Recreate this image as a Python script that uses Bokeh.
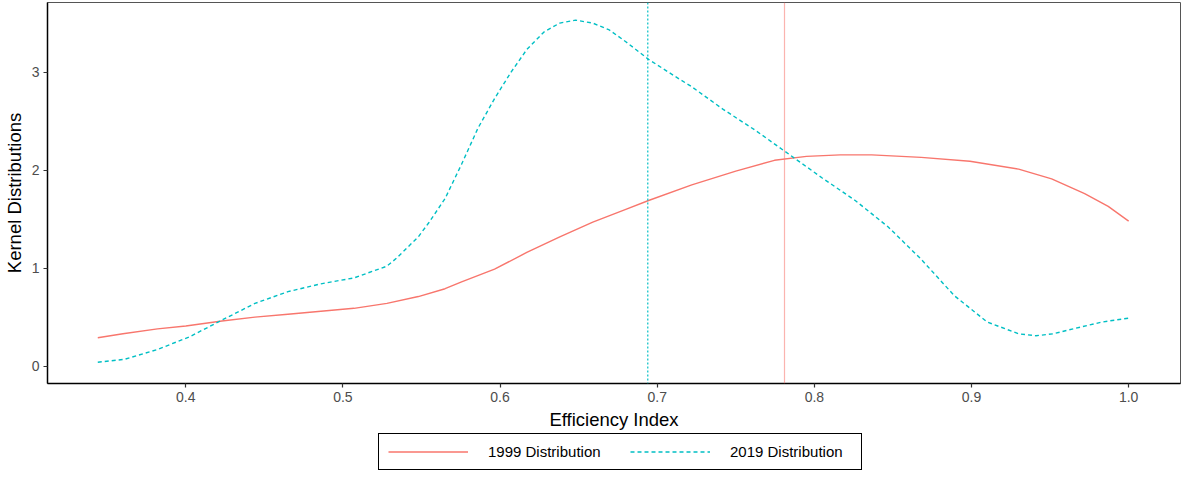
from bokeh.plotting import figure
from bokeh.layouts import column
from bokeh.models import Range1d, FixedTicker, Span, Legend, LegendItem
from bokeh.embed import file_html
from bokeh.resources import INLINE

# ---- data ----
x_1999 = [0.344, 0.36, 0.382, 0.40, 0.423, 0.444, 0.465, 0.486, 0.507, 0.528, 0.548, 0.565,
          0.5755, 0.5965, 0.617, 0.638, 0.659, 0.680, 0.6945, 0.722, 0.75, 0.7746, 0.795,
          0.8165, 0.8365, 0.868, 0.899, 0.930, 0.951, 0.972, 0.987, 1.0]
y_1999 = [0.29, 0.33, 0.38, 0.41, 0.46, 0.50, 0.53, 0.56, 0.59, 0.64, 0.71, 0.79,
          0.86, 0.99, 1.16, 1.32, 1.47, 1.60, 1.69, 1.85, 1.99, 2.10, 2.14,
          2.155, 2.155, 2.13, 2.09, 2.01, 1.91, 1.76, 1.63, 1.48]

x_2019 = [0.344, 0.361, 0.382, 0.4025, 0.423, 0.444, 0.465, 0.486, 0.507, 0.528, 0.534,
          0.548, 0.5545, 0.565, 0.5755, 0.586, 0.5965, 0.607, 0.617, 0.628, 0.638, 0.648,
          0.659, 0.6695, 0.680, 0.6945, 0.711, 0.722, 0.742, 0.763, 0.784, 0.805, 0.826,
          0.847, 0.868, 0.889, 0.910, 0.930, 0.941, 0.952, 0.962, 0.983, 1.0]
y_2019 = [0.04, 0.07, 0.17, 0.30, 0.47, 0.64, 0.76, 0.84, 0.90, 1.02, 1.10,
          1.32, 1.46, 1.71, 2.06, 2.43, 2.73, 3.00, 3.23, 3.41, 3.50, 3.53,
          3.50, 3.43, 3.31, 3.13, 2.96, 2.85, 2.62, 2.40, 2.16, 1.92, 1.69,
          1.42, 1.09, 0.72, 0.45, 0.33, 0.31, 0.33, 0.37, 0.45, 0.49]

mean_1999 = 0.781
mean_2019 = 0.694

series_labels = ["1999 Distribution", "2019 Distribution"]
x_ticks = [0.4, 0.5, 0.6, 0.7, 0.8, 0.9, 1.0]
x_tick_labels = ["0.4", "0.5", "0.6", "0.7", "0.8", "0.9", "1.0"]
y_ticks = [0, 1, 2, 3]

RED = "#F8766D"
TEAL = "#00BFC4"
FONT = "Liberation Sans"
DASH_2019 = "4 3"

# ---------------- main plot ----------------
p = figure(width=1182, height=432, output_backend="svg", toolbar_location=None,
           x_range=Range1d(0.312, 1.033), y_range=Range1d(-0.177, 3.71),
           min_border_left=0, min_border_right=2, min_border_top=2, min_border_bottom=0)

p.line(x_1999, y_1999, line_color=RED, line_width=1.4)
p.line(x_2019, y_2019, line_color=TEAL, line_width=1.4, line_dash=DASH_2019)

p.add_layout(Span(location=mean_2019, dimension="height", line_color=TEAL,
                  line_width=1.2, line_dash="2 2"))
p.add_layout(Span(location=mean_1999, dimension="height", line_color=RED,
                  line_width=1.2, line_alpha=0.55))

p.xaxis.ticker = FixedTicker(ticks=x_ticks)
p.xaxis.major_label_overrides = {t: l for t, l in zip(x_ticks, x_tick_labels)}
p.yaxis.ticker = FixedTicker(ticks=y_ticks)
p.xaxis.axis_label = "Efficiency Index"
p.yaxis.axis_label = "Kernel Distributions"
for ax in (p.xaxis[0], p.yaxis[0]):
    ax.axis_line_color = "black"
    ax.axis_line_width = 1.5
    ax.major_tick_line_color = "#333333"
    ax.major_tick_line_width = 1.2
    ax.major_tick_out = 4
    ax.major_tick_in = 0
    ax.minor_tick_line_color = None
    ax.major_label_text_font = FONT
    ax.major_label_text_font_size = "14px"
    ax.major_label_text_color = "#4D4D4D"
    ax.axis_label_text_font = FONT
    ax.axis_label_text_font_size = "18.5px"
    ax.axis_label_text_font_style = "normal"
    ax.axis_label_text_color = "black"
p.xaxis.major_label_standoff = 4
p.yaxis.major_label_standoff = 4
p.xaxis.axis_label_standoff = 4
p.yaxis.axis_label_standoff = 4

p.xgrid.grid_line_color = None
p.ygrid.grid_line_color = None
p.outline_line_color = "#555555"
p.outline_line_width = 1
p.background_fill_color = "white"
p.border_fill_color = "white"

# ---------------- legend strip ----------------
# the key lines carry the same series, but this strip's y range lies above the data,
# so only their legend glyphs are seen
lg = figure(width=1182, height=41, output_backend="svg", toolbar_location=None,
            x_axis_type=None, y_axis_type=None,
            x_range=Range1d(0.312, 1.033), y_range=Range1d(10, 11),
            min_border=0)
lg.outline_line_color = None
lg.xgrid.grid_line_color = None
lg.ygrid.grid_line_color = None
k1 = lg.line(x_1999, y_1999, line_color=RED, line_width=1.4)
k2 = lg.line(x_2019, y_2019, line_color=TEAL, line_width=1.4, line_dash=DASH_2019)

legend = Legend(items=[LegendItem(label=series_labels[0], renderers=[k1]),
                       LegendItem(label=series_labels[1], renderers=[k2])],
                orientation="horizontal", location=(331, 3))
legend.border_line_color = "black"
legend.border_line_alpha = 1.0
legend.border_line_width = 1.5
legend.background_fill_color = "white"
legend.background_fill_alpha = 1.0
legend.label_text_font = FONT
legend.label_text_font_size = "15px"
legend.label_text_color = "black"
legend.glyph_width = 80
legend.glyph_height = 17
legend.label_standoff = 20
legend.label_width = 122
legend.spacing = 20
legend.padding = 9
legend.margin = 0
legend.label_height = 17
lg.add_layout(legend, "center")

layout = column(p, lg, spacing=0)
open("out.html", "w").write(file_html(layout, INLINE))
